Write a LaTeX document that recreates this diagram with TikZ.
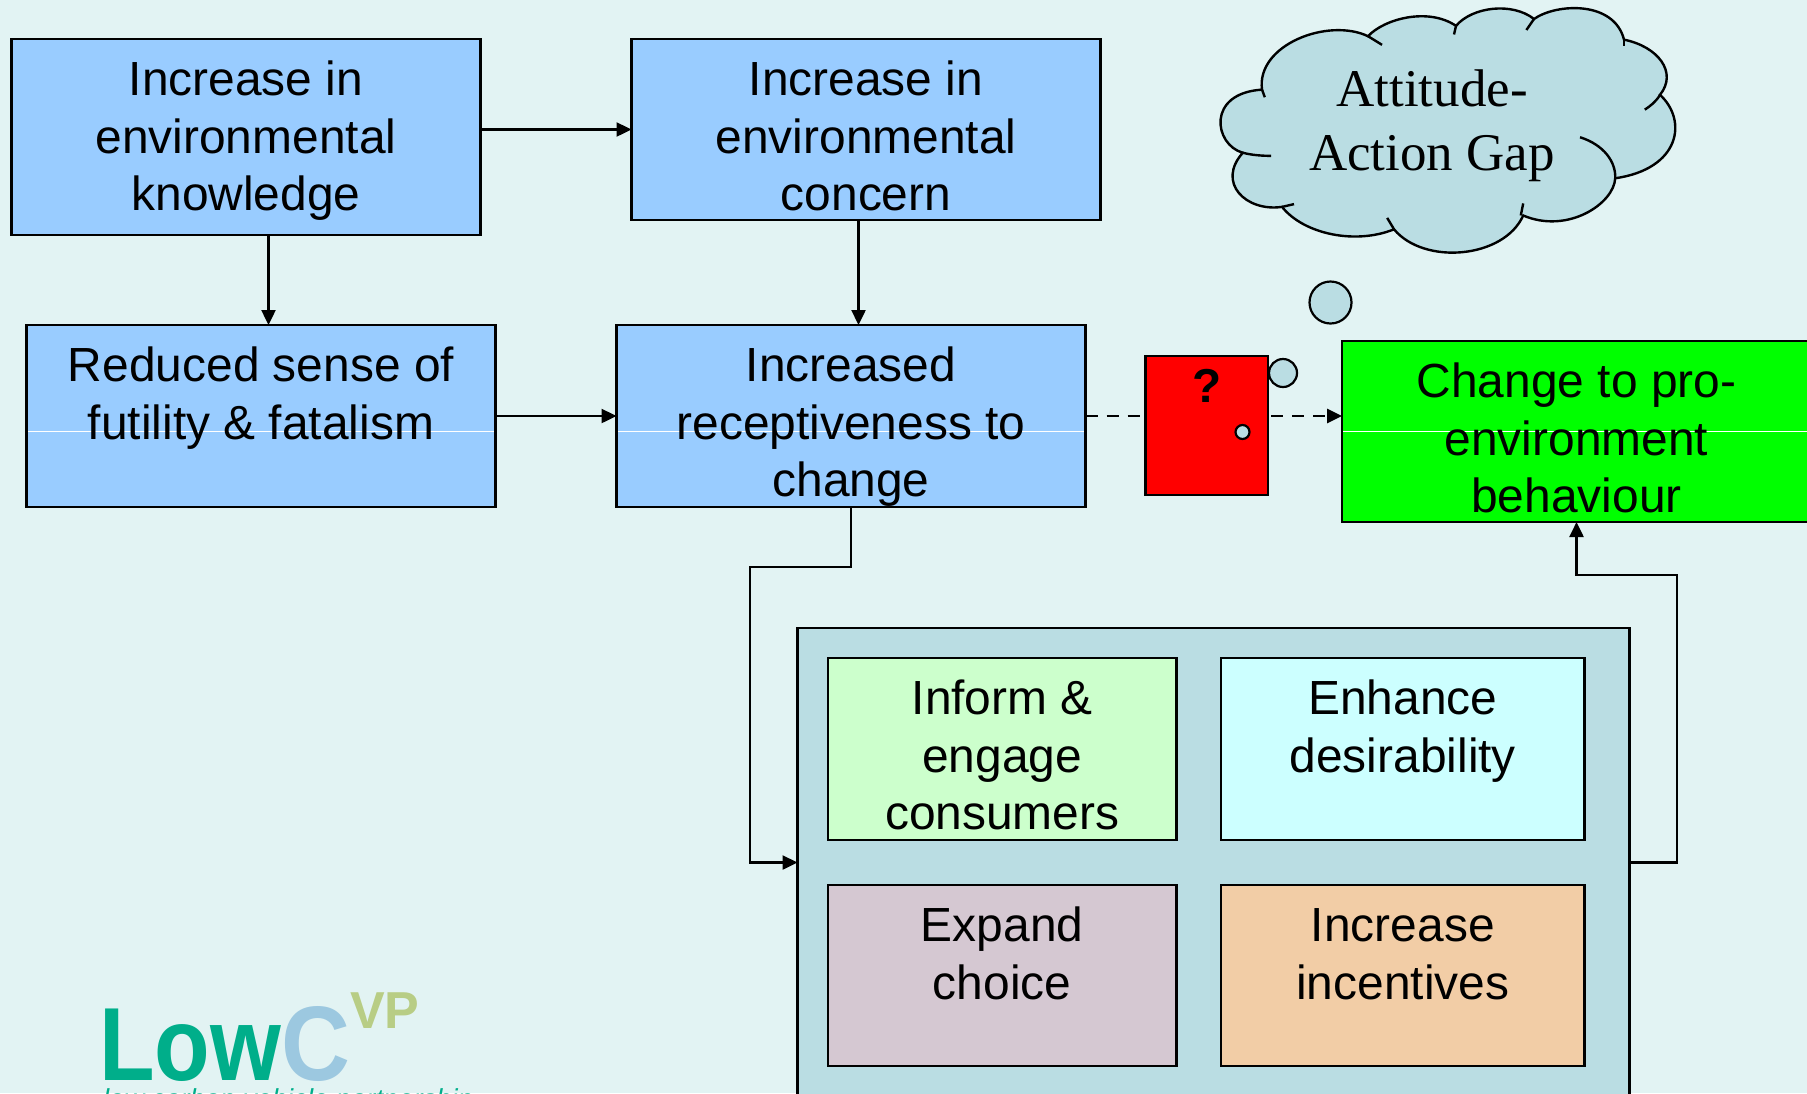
\documentclass[tikz,border=0pt]{standalone}
\usepackage{fontspec}
\usepackage{graphicx}
\setmainfont{Liberation Sans}
\newfontfamily\cloudfont{Liberation Serif}
\usetikzlibrary{arrows.meta}
\definecolor{bgc}{HTML}{E2F3F3}
\definecolor{blueb}{HTML}{99CCFF}
\definecolor{tealb}{HTML}{BADDE3}
\definecolor{lgreen}{HTML}{CCFFCC}
\definecolor{lcyan}{HTML}{CCFFFF}
\definecolor{mauve}{HTML}{D5C8D2}
\definecolor{peach}{HTML}{F2CDA6}
\definecolor{lowteal}{HTML}{00AE8A}
\definecolor{lowblue}{HTML}{9CC8E0}
\definecolor{lowgreen}{HTML}{B8CD85}
\newcommand{\bt}[3]{\parbox[t][#2pt][t]{#1pt}{\centering\fontsize{23.95}{28.8}\selectfont\rule{0pt}{28.3pt}#3}}
\tikzset{
  bx/.style={draw=black,line width=1.2pt,inner sep=0pt,outer sep=0pt,anchor=north west},
  arr/.style={line width=1.2pt,-{Triangle[length=7.5pt,width=7pt]}},
  dashbase/.style={line width=1.35pt,dash pattern=on 6pt off 4.5pt},
  dashline/.style={dashbase,-{Triangle[length=7.5pt,width=7pt]}},
  sheen/.style={path picture={\draw[white,line width=0.35pt] ([yshift=-#1]path picture bounding box.north west) -- ([yshift=-#1]path picture bounding box.north east);}},
  cloudline/.style={draw=black,line width=1.2pt},
  bubble/.style={draw=black,fill=tealb,line width=1.1pt,circle,inner sep=0pt,outer sep=0pt},
  logo/.style={inner sep=0pt,outer sep=0pt,anchor=base west,font=\bfseries}
}
\begin{document}
\begin{tikzpicture}[x=0.5pt,y=-0.5pt]
\useasboundingbox (0,0) rectangle (1807,1093);
\fill[bgc] (0,0) rectangle (1807,1093);
% cloud
\begin{scope}[shift={(590pt,0pt)},x=0.2pt,y=-0.1724pt]
\path[cloudline,fill=tealb] (470,105) .. controls (510,55) and (620,20) .. (690,75)
 .. controls (730,20) and (830,5) .. (885,55)
 .. controls (940,10) and (1085,0) .. (1110,115)
 .. controls (1195,135) and (1245,210) .. (1200,275)
 .. controls (1270,350) and (1250,490) .. (1088,517)
 .. controls (1085,590) and (970,680) .. (858,625)
 .. controls (810,750) and (610,770) .. (535,665)
 .. controls (440,710) and (310,680) .. (255,600)
 .. controls (165,615) and (90,530) .. (157,443)
 .. controls (85,420) and (65,270) .. (205,260)
 .. controls (190,130) and (370,50) .. (470,105) -- cycle;
\draw[cloudline] (470,105) -- (505,130);
\draw[cloudline] (690,75) -- (685,100);
\draw[cloudline] (885,55) -- (866,87);
\draw[cloudline] (1110,115) -- (1110,133);
\draw[cloudline] (1200,275) .. controls (1190,295) and (1175,308) .. (1162,318);
\draw[cloudline] (1000,398) .. controls (1060,420) and (1090,470) .. (1088,517);
\draw[cloudline] (858,590) -- (852,625);
\draw[cloudline] (518,632) -- (535,665);
\draw[cloudline] (285,592) -- (255,600);
\draw[cloudline] (228,452) .. controls (205,452) and (180,450) .. (157,443);
\draw[cloudline] (212,282) -- (205,260);
\end{scope}
\node[inner sep=0pt,align=center,font=\cloudfont\fontsize{26.5}{32.2}\selectfont,anchor=north] (gap) at (1432,69) {Attitude-\\Action Gap};
\node[bubble,minimum size=21pt] (b1) at (1330.5,302.5) {};
% boxes
\node[bx,fill=blueb] (a) at (11.5,39) {\bt{234.5}{98}{Increase in\\environmental\\knowledge}};
\node[bx,fill=blueb] (b) at (631.5,39) {\bt{234.5}{90.5}{Increase in\\environmental\\concern}};
\node[bx,fill=blueb,sheen=53pt] (c) at (26.5,325) {\bt{234.5}{91}{Reduced sense of\\futility \& fatalism}};
\node[bx,fill=blueb,sheen=53pt] (d) at (616.5,325) {\bt{234.5}{91}{Increased\\receptiveness to\\change}};
\node[bx,fill=red] (q) at (1145.5,356) {\parbox[t][69.5pt][t]{61.2pt}{\centering\fontsize{23.8}{28.8}\selectfont\bfseries\rule{0pt}{23pt}?}};
\node[bx,fill=green,sheen=45pt] (g) at (1342,341) {\bt{234.5}{90.5}{Change to pro-\\environment\\behaviour}};
\node[bx,fill=tealb] (big) at (797.5,628) {\parbox[t][234.5pt][t]{416pt}{\mbox{}}};
\node[bx,fill=lgreen] (i1) at (828,658) {\bt{174.2}{91}{Inform \&\\engage\\consumers}};
\node[bx,fill=lcyan] (i2) at (1221,658) {\bt{181.8}{91}{Enhance\\desirability}};
\node[bx,fill=mauve] (i3) at (828,885) {\bt{174.2}{90.5}{Expand\\choice}};
\node[bx,fill=peach] (i4) at (1221,885) {\bt{181.8}{90.5}{Increase\\incentives}};
\node[bubble,minimum size=14pt] (b2) at (1283,373) {};
\node[bubble,minimum size=7pt] (b3) at (1242.5,432) {};
% connectors
\coordinate (acx) at (268.5,325);
\coordinate (bdx) at (858.5,325);
\coordinate (dk) at (750,567);
\coordinate (bk) at (1677,575);
\coordinate (qg) at (1271,416);
\draw[arr] (a.south -| acx) -- (acx);
\draw[arr] (b.west -| a.east) -- (b.west);
\draw[arr] (b.south -| bdx) -- (bdx);
\draw[arr] (c.east) -- (d.west);
\draw[arr] (d.south) |- (dk) |- (big.west);
\draw[arr] (big.east) -| (bk) -| (g.south);
\draw[dashbase] (d.east) -- (d.east -| q.west);
\draw[dashline] (qg) -- (qg -| g.west);
% logo
\node[logo,text=lowteal,font=\bfseries\fontsize{52}{52}\selectfont] (lw) at (99,1080) {\scalebox{0.875}[1]{Low}};
\node[logo,text=lowblue,font=\bfseries\fontsize{53}{53}\selectfont] (lc) at (281,1080) {\scalebox{0.9}[1]{C}};
\node[logo,text=lowgreen,font=\bfseries\fontsize{26}{26}\selectfont] (lv) at (350,1028) {VP};
\node[logo,text=lowteal,font=\itshape\fontsize{13.7}{16}\selectfont] (lt) at (103,1108) {low carbon vehicle partnership};
\end{tikzpicture}
\end{document}
